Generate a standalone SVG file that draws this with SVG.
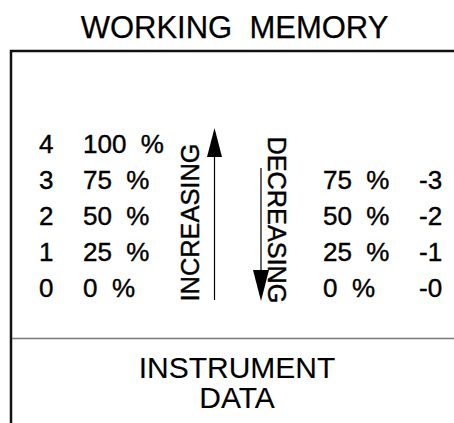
<svg xmlns="http://www.w3.org/2000/svg" width="454" height="423" viewBox="0 0 454 423">
<defs>
<style>
text{font-family:"Liberation Sans",Arial,sans-serif;fill:#000;stroke:#000;stroke-width:0.4;white-space:pre}
.row{font-size:26px}
.big{font-size:31px;stroke-width:0.25}
.lbl{font-size:26px}
.bot{font-size:30px;stroke-width:0.1}
.frame{stroke:#111;stroke-width:2.5;fill:none}
.div{stroke:#777;stroke-width:1.5;fill:none}
.arr{stroke:#000;stroke-width:1.2;fill:none}
.head{fill:#000}
</style>
</defs>
<rect width="454" height="423" fill="#fff"/>
<g id="frame">
<path class="frame" d="M11,423 V51 H454"/>
<path class="div" d="M12,338.5 H454"/>
</g>
<g id="title"><text class="big" x="234.5" y="38" text-anchor="middle">WORKING  MEMORY</text></g>
<g id="left-levels">
<text class="row" x="39" y="153">4</text><text class="row" x="83" y="153">100  %</text>
<text class="row" x="39" y="189">3</text><text class="row" x="83" y="189">75  %</text>
<text class="row" x="39" y="225">2</text><text class="row" x="83" y="225">50  %</text>
<text class="row" x="39" y="261">1</text><text class="row" x="83" y="261">25  %</text>
<text class="row" x="39" y="297">0</text><text class="row" x="83" y="297">0  %</text>
</g>
<g id="right-levels">
<text class="row" x="323" y="189">75  %</text><text class="row" x="419" y="189">-3</text>
<text class="row" x="323" y="225">50  %</text><text class="row" x="419" y="225">-2</text>
<text class="row" x="323" y="261">25  %</text><text class="row" x="419" y="261">-1</text>
<text class="row" x="323" y="297">0  %</text><text class="row" x="419" y="297">-0</text>
</g>
<g id="increasing">
<text class="lbl" transform="translate(199,222.5) rotate(-90)" text-anchor="middle" textLength="158" lengthAdjust="spacingAndGlyphs">INCREASING</text>
</g>
<g id="decreasing">
<text class="lbl" transform="translate(268,220) rotate(90)" text-anchor="middle" textLength="167" lengthAdjust="spacingAndGlyphs">DECREASING</text>
</g>
<g id="connectors">
<line class="arr" x1="214.5" y1="300" x2="214.5" y2="150"/>
<polygon class="head" points="214.5,128 207,157 222,157"/>
<line class="arr" x1="261" y1="168" x2="261" y2="280"/>
<polygon class="head" points="261,301 253,270 269,270"/>
</g>
<g id="instrument-data">
<text class="bot" x="237" y="378" text-anchor="middle">INSTRUMENT</text>
<text class="bot" x="237" y="408" text-anchor="middle">DATA</text>
</g>
</svg>
